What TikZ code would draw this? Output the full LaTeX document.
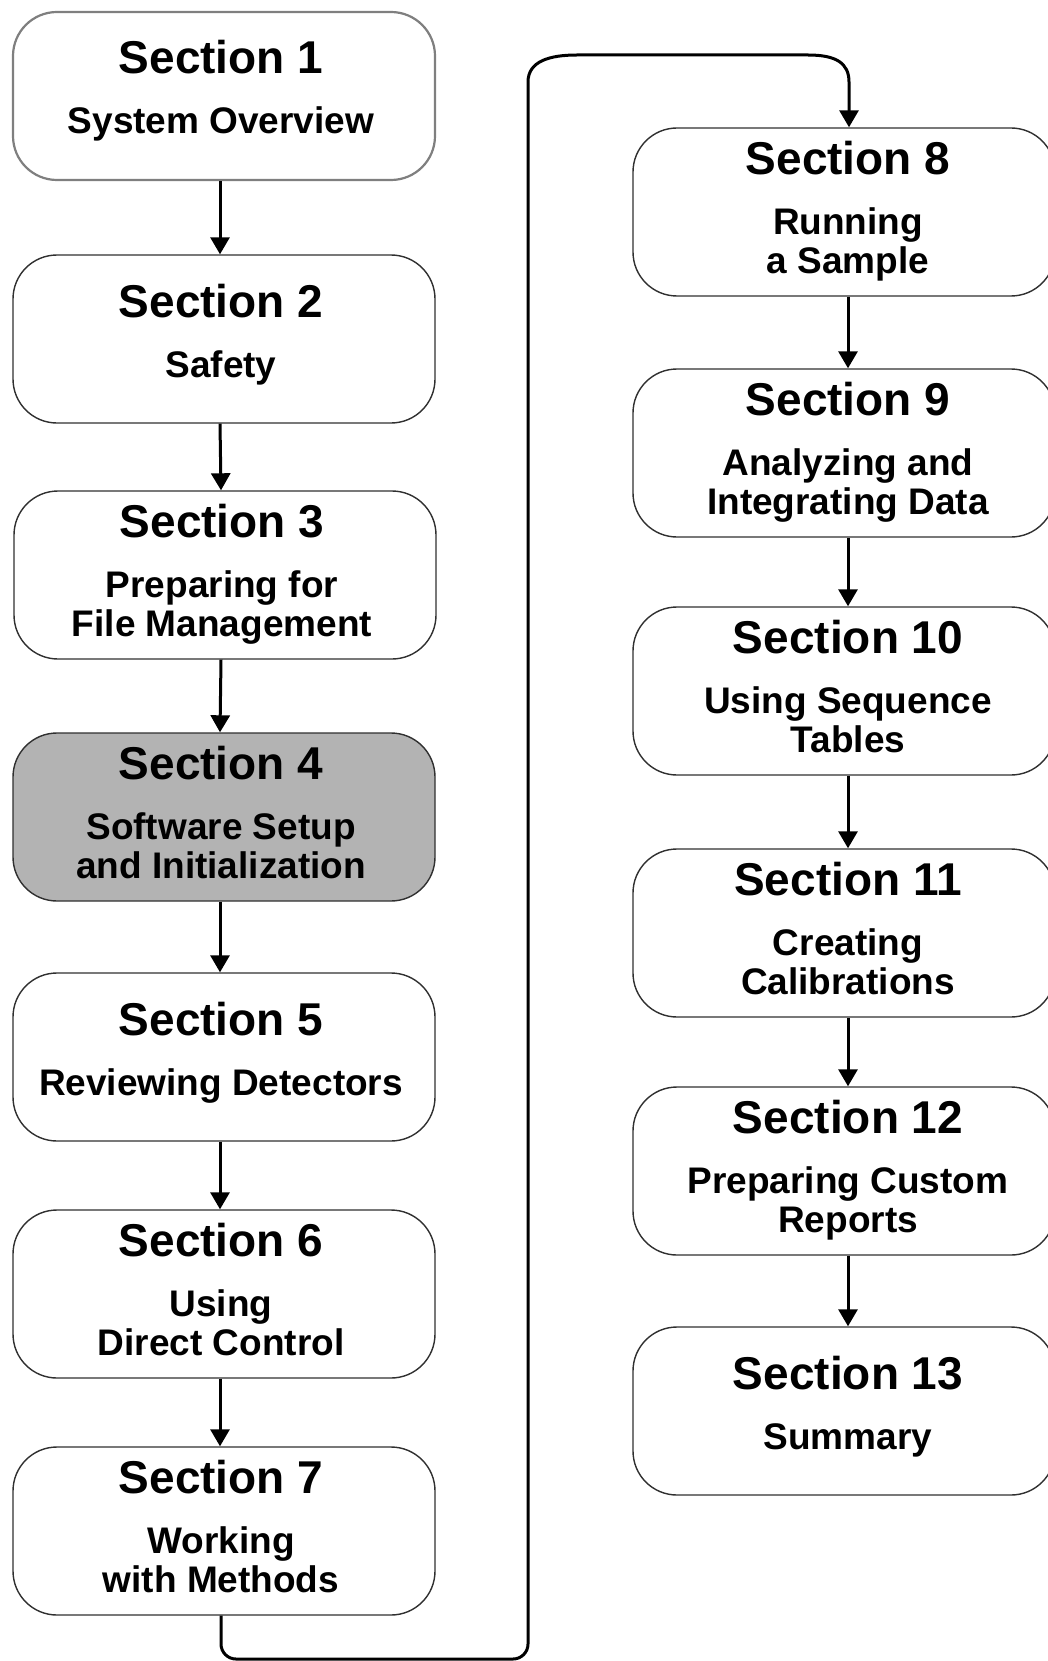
\documentclass[tikz,border=0pt]{standalone}
\usepackage{fontspec}
\setmainfont{Liberation Sans}
\usetikzlibrary{arrows.meta}
\definecolor{boxline}{HTML}{303030}
\definecolor{sonegray}{HTML}{7F7F7F}
\definecolor{sfourfill}{HTML}{B3B3B3}
% one-line subtitle box: [opts]{name}{x}{y}{dx}{title}{sub}
\newcommand\onesec[7][]{%
  \node[secbox,#1] (#2) at (#3,#4) {};
  \node[ttl] (#2t) at ([xshift=#5pt,yshift=-63pt]#2.north) {#6};
  \node[sub] (#2s) at ([xshift=#5pt,yshift=-123pt]#2.north) {#7};}
% two-line subtitle box: [opts]{name}{x}{y}{dx}{title}{sub1}{sub2}
\newcommand\twosec[8][]{%
  \node[secbox,#1] (#2) at (#3,#4) {};
  \node[ttl] (#2t) at ([xshift=#5pt,yshift=-47pt]#2.north) {#6};
  \node[sub] (#2a) at ([xshift=#5pt,yshift=-107pt]#2.north) {#7};
  \node[sub] (#2b) at ([xshift=#5pt,yshift=-146pt]#2.north) {#8};}
\begin{document}
\begin{tikzpicture}[x=1pt,y=-1pt,
  secbox/.style={draw=boxline, line width=1.4pt, rounded corners=44pt,
    minimum width=422pt, minimum height=168pt, inner sep=0pt, fill=white},
  ttl/.style={font=\fontsize{46}{50}\selectfont\bfseries, anchor=base, inner sep=0pt},
  sub/.style={font=\fontsize{37}{40}\selectfont\bfseries, anchor=base, inner sep=0pt},
  flow/.style={line width=3pt, -{Triangle[length=17pt,width=19pt]}},
  loopline/.style={line width=3pt, -{Triangle[length=17pt,width=19pt]}}]
\useasboundingbox (0,0) rectangle (1048,1661);
\clip (0,0) rectangle (1048,1661);
% left column
\onesec[draw=sonegray,line width=2.2pt]{s1}{224}{96}{-3}{Section 1}{System Overview}
\onesec{s2}{224}{339}{-3}{Section 2}{Safety}
\twosec{s3}{225}{575}{-3}{Section 3}{Preparing for}{File Management}
\twosec[fill=sfourfill]{s4}{224}{817}{-3}{Section 4}{Software Setup}{and Initialization}
\onesec{s5}{224}{1057}{-3}{Section 5}{Reviewing Detectors}
\twosec{s6}{224}{1294}{-3}{Section 6}{Using}{Direct Control}
\twosec{s7}{224}{1531}{-3}{Section 7}{Working}{with Methods}
% right column
\twosec{s8}{844}{212}{4}{Section 8}{Running}{a Sample}
\twosec{s9}{844}{453}{4}{Section 9}{Analyzing and}{Integrating Data}
\twosec{s10}{844}{691}{4}{Section 10}{Using Sequence}{Tables}
\twosec{s11}{844}{933}{4}{Section 11}{Creating}{Calibrations}
\twosec{s12}{844}{1171}{4}{Section 12}{Preparing Custom}{Reports}
\onesec{s13}{844}{1411}{4}{Section 13}{Summary}
% connectors
\foreach \a/\b in {s1/s2,s2/s3,s3/s4,s4/s5,s5/s6,s6/s7}
  \draw[flow] ([xshift=-4pt]\a.south) -- ([xshift=-4pt]\b.north);
\foreach \a/\b in {s8/s9,s9/s10,s10/s11,s11/s12,s12/s13}
  \draw[flow] ([xshift=4pt]\a.south) -- ([xshift=4pt]\b.north);
\draw[loopline] ([xshift=-3pt]s7.south) [rounded corners=15pt] -- (221,1659) -- (528,1659) -- (528,1500) [sharp corners]
  -- (528,82) .. controls (528,61) and (550,55) .. (577,55) -- (808,55)
  .. controls (836,55) and (849,63) .. (849,82) -- ([xshift=5pt]s8.north);
\end{tikzpicture}
\end{document}
